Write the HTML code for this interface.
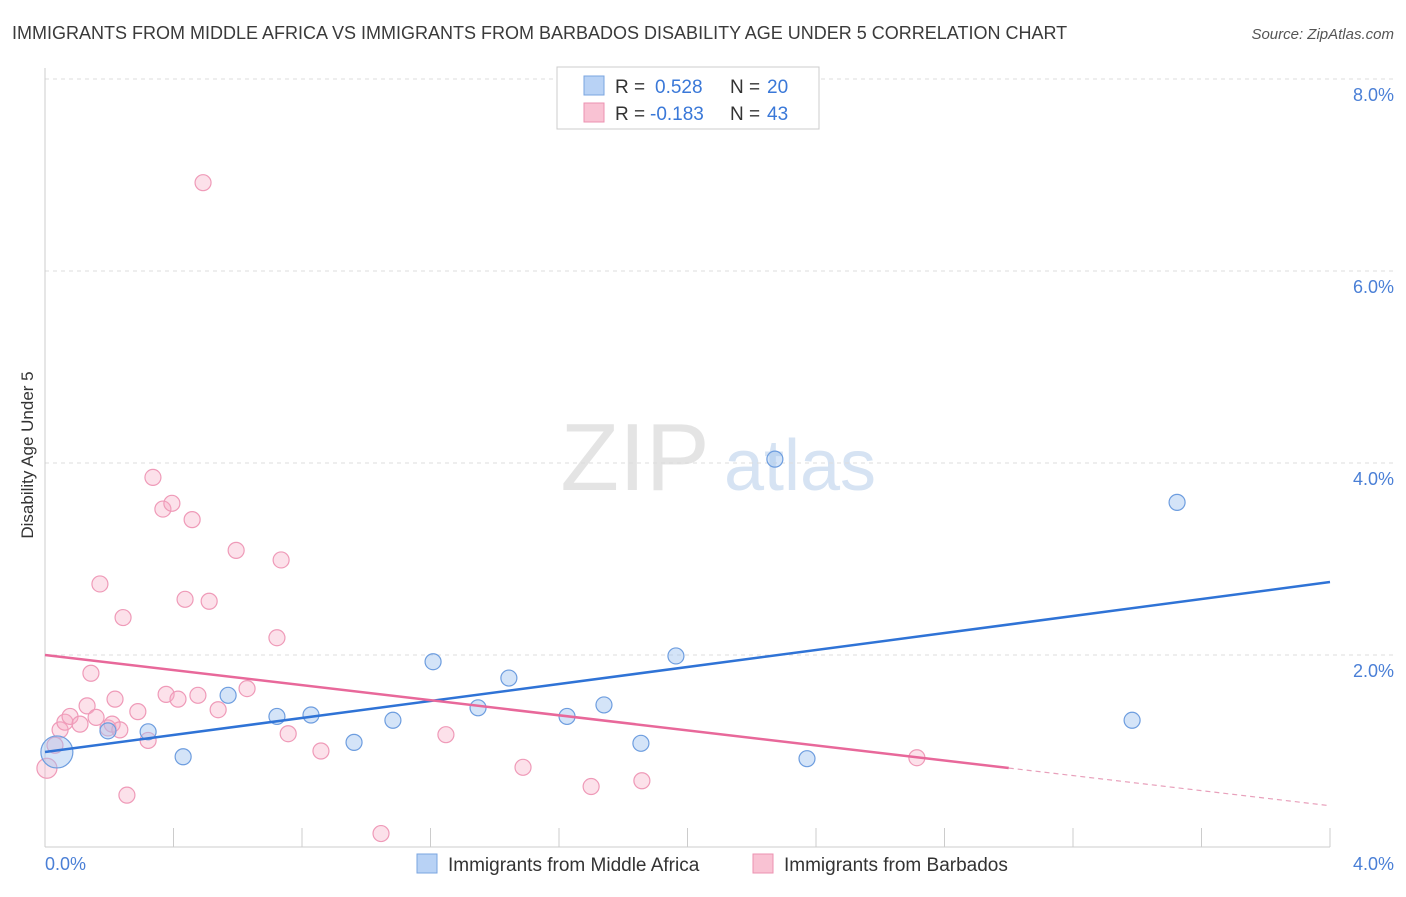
<!DOCTYPE html>
<html><head><meta charset="utf-8"><style>
body{margin:0;background:#fff;font-family:"Liberation Sans",sans-serif}
svg text{font-family:"Liberation Sans",sans-serif}
</style></head><body>
<svg id="chart" width="1406" height="892" xmlns="http://www.w3.org/2000/svg">
<text x="12" y="39" font-size="18" fill="#3a3a3a">IMMIGRANTS FROM MIDDLE AFRICA VS IMMIGRANTS FROM BARBADOS DISABILITY AGE UNDER 5 CORRELATION CHART</text>
<text x="1394" y="39" font-size="15" fill="#555" text-anchor="end" font-style="italic">Source: ZipAtlas.com</text>
<g>
<text x="635" y="490" font-size="96" fill="#e4e4e4" text-anchor="middle" font-family="Liberation Serif">ZIP</text>
<text x="800" y="490" font-size="72" fill="#d6e3f3" text-anchor="middle">atlas</text>
</g>
<g id="grid"></g>
<line x1="45" y1="68" x2="45" y2="847" stroke="#ccc"/>
<line x1="45" y1="847" x2="1330" y2="847" stroke="#ccc"/>
<text transform="translate(33,455) rotate(-90)" font-size="17" fill="#333" text-anchor="middle">Disability Age Under 5</text>
<text x="45" y="870" font-size="18" fill="#4a7fd6">0.0%</text>
<text x="1394" y="870" font-size="18" fill="#4a7fd6" text-anchor="end">4.0%</text>
<g id="marks"></g>
<g>
<rect x="557" y="67" width="262" height="62" fill="#fff" stroke="#ccc"/>
<rect x="584" y="76" width="20" height="19" fill="#b8d2f5" stroke="#7aa5e0"/>
<rect x="584" y="103" width="20" height="19" fill="#f9c2d3" stroke="#ec92b0"/>
<text x="615" y="93" font-size="19" fill="#333">R = </text><text x="655" y="93" font-size="19" fill="#3a78d8">0.528</text>
<text x="730" y="93" font-size="19" fill="#333">N = </text><text x="767" y="93" font-size="19" fill="#3a78d8">20</text>
<text x="615" y="120" font-size="19" fill="#333">R = </text><text x="650" y="120" font-size="19" fill="#3a78d8">-0.183</text>
<text x="730" y="120" font-size="19" fill="#333">N = </text><text x="767" y="120" font-size="19" fill="#3a78d8">43</text>
</g>
<g>
<rect x="417" y="854" width="20" height="19" fill="#b8d2f5" stroke="#7aa5e0"/>
<text x="448" y="871" font-size="19" fill="#333">Immigrants from Middle Africa</text>
<rect x="753" y="854" width="20" height="19" fill="#f9c2d3" stroke="#ec92b0"/>
<text x="784" y="871" font-size="19" fill="#333">Immigrants from Barbados</text>
</g>
</svg>
<script>
const yTicks=[2,4,6,8];
const yTickLabels=["2.0%","4.0%","6.0%","8.0%"];
const blueX=[0.037,0.196,0.321,0.430,0.570,0.722,0.828,0.962,1.083,1.208,1.348,1.444,1.625,1.740,1.855,1.964,2.272,2.372,3.384,3.524];
const blueY=[0.99,1.21,1.20,0.94,1.58,1.36,1.375,1.09,1.32,1.93,1.45,1.76,1.36,1.48,1.08,1.99,4.04,0.92,1.32,3.59];
const pinkX=[0.006,0.031,0.047,0.062,0.078,0.109,0.131,0.143,0.159,0.171,0.196,0.209,0.218,0.233,0.243,0.255,0.289,0.321,0.336,0.367,0.377,0.395,0.414,0.436,0.458,0.476,0.492,0.511,0.539,0.595,0.629,0.722,0.735,0.757,0.859,1.046,1.248,1.488,1.700,1.858,2.714];
const pinkY=[0.82,1.06,1.22,1.30,1.36,1.28,1.47,1.81,1.35,2.74,1.24,1.28,1.54,1.22,2.39,0.54,1.41,1.11,3.85,3.52,1.59,3.58,1.54,2.58,3.41,1.58,6.92,2.56,1.43,3.09,1.65,2.18,2.99,1.18,1.00,0.14,1.17,0.83,0.63,0.69,0.93];
const blueLine=[0.99,2.76];
const pinkLine=[2.00,0.43];
const pinkSolidEnd=3.0;
const NS="http://www.w3.org/2000/svg";
const sx=v=>45+v/4*1285;
const sy=v=>847-v*96;
const grid=document.getElementById('grid'),marks=document.getElementById('marks');
function mk(tag,attrs,parent){const e=document.createElementNS(NS,tag);for(const k in attrs)e.setAttribute(k,attrs[k]);parent.appendChild(e);return e;}
yTicks.forEach((t,i)=>{
 const l=mk('line',{x1:45,x2:1394,y1:sy(t),y2:sy(t),stroke:'#ddd','stroke-dasharray':'4,4'},grid);
 
 
 const tx=mk('text',{x:1394,y:sy(t)+22,'font-size':18,fill:'#4a7fd6','text-anchor':'end'},grid);
 tx.textContent=yTickLabels[i];
 
 
});
for(let i=1;i<=10;i++){
 const l=mk('line',{x1:45+i*128.5,x2:45+i*128.5,y1:828,y2:847,stroke:'#ccc'},grid);
 
 
}
pinkX.forEach((x,i)=>{
 const c=mk('circle',{cx:sx(x),cy:sy(pinkY[i]),r:i==0?10:8,fill:'rgba(246,170,195,0.35)',stroke:'#ef9ab8','stroke-width':1.2},marks);
 
 
});
blueX.forEach((x,i)=>{
 const c=mk('circle',{cx:sx(x),cy:sy(blueY[i]),r:i==0?16:8,fill:'rgba(160,195,240,0.45)',stroke:'#6d9ddf','stroke-width':1.2},marks);
 
 
});
const bl=mk('line',{x1:sx(0),y1:sy(blueLine[0]),x2:sx(4),y2:sy(blueLine[1]),stroke:'#2f73d6','stroke-width':2.5},marks);


const pm=pinkLine[0]+(pinkLine[1]-pinkLine[0])*pinkSolidEnd/4;
const pl=mk('line',{x1:sx(0),y1:sy(pinkLine[0]),x2:sx(pinkSolidEnd),y2:sy(pm),stroke:'#e8689a','stroke-width':2.5},marks);


const pd=mk('line',{x1:sx(pinkSolidEnd),y1:sy(pm),x2:sx(4),y2:sy(pinkLine[1]),stroke:'#e8a0bb','stroke-width':1.2,'stroke-dasharray':'5,4'},marks);


</script>
</body></html>
